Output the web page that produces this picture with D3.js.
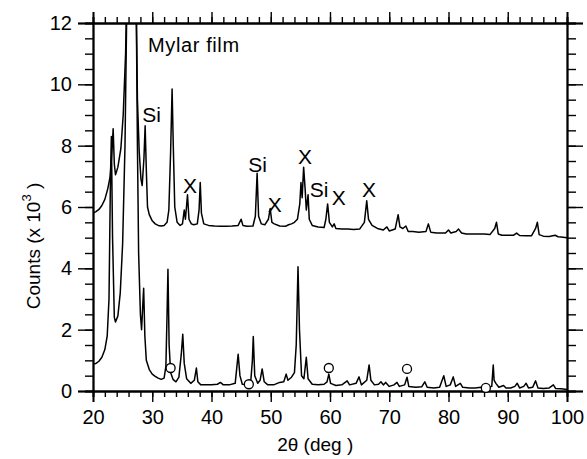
<!DOCTYPE html>
<html>
<head>
<meta charset="utf-8">
<script src="https://cdn.jsdelivr.net/npm/d3@7"></script>
<style>
  body { margin: 0; background: #fff; }
  svg { display: block; font-family: "Liberation Sans", Arial, sans-serif; }
</style>
</head>
<body>
<div id="chart"></div>
<script>
// upper trace (sample on Mylar film): [2theta, counts x 10^3]
var upperTrace = [
  [20.0,5.80],[20.5,5.85],[21.0,5.92],[21.5,6.05],[22.0,6.25],[22.5,6.6],[22.9,7.0],[23.2,7.8],
  [23.4,8.55],[23.6,7.4],[23.8,7.05],[24.2,7.3],[24.7,7.9],[25.1,9.0],[25.5,11.0],[25.7,13],
  [26.0,16],[27.0,16],[27.3,12.5],[27.5,9.5],[27.8,7.8],[28.1,6.9],[28.3,6.7],[28.6,7.6],
  [28.8,8.65],[29.0,7.2],[29.2,6.0],[29.5,5.75],[30.0,5.55],[30.5,5.45],[31.0,5.4],[31.5,5.38],
  [32.0,5.4],[32.5,5.5],[32.8,5.9],[33.1,7.8],[33.35,9.85],[33.55,8.0],[33.8,6.0],[34.2,5.5],
  [34.7,5.4],[35.1,5.45],[35.4,5.9],[35.6,5.6],[35.95,6.4],[36.2,5.6],[36.6,5.45],[37.0,5.42],
  [37.6,5.45],[37.9,5.9],[38.1,6.8],[38.3,5.8],[38.7,5.45],[39.5,5.4],[40.5,5.38],[41.5,5.37],
  [42.5,5.37],[43.5,5.38],[44.5,5.4],[45.0,5.6],[45.3,5.4],[46.0,5.37],[47.0,5.38],[47.4,5.7],
  [47.7,7.1],[47.95,5.7],[48.4,5.45],[49.0,5.42],[49.6,5.6],[49.9,5.95],[50.2,5.5],[50.6,5.45],
  [51.5,5.38],[52.5,5.37],[53.0,5.42],[53.5,5.45],[54.0,5.5],[54.5,5.6],[54.9,6.1],[55.1,6.8],
  [55.3,6.3],[55.55,7.3],[55.8,6.6],[56.0,5.9],[56.3,6.4],[56.5,5.6],[57.0,5.4],[58.0,5.35],
  [59.0,5.33],[59.3,5.6],[59.6,6.1],[59.9,5.5],[60.4,5.35],[60.7,5.45],[61.0,5.3],[62.0,5.28],
  [63.0,5.28],[64.0,5.27],[65.0,5.28],[65.8,5.5],[66.2,6.2],[66.5,5.6],[66.8,5.5],[67.1,5.4],
  [68.0,5.3],[69.0,5.25],[69.6,5.35],[70.0,5.22],[71.0,5.28],[71.5,5.75],[71.8,5.35],[72.3,5.3],
  [72.8,5.38],[73.2,5.2],[74.0,5.2],[75.0,5.18],[76.2,5.2],[76.6,5.45],[77.0,5.18],[78.0,5.15],
  [79.5,5.15],[80.0,5.25],[80.4,5.15],[81.3,5.2],[81.7,5.28],[82.2,5.15],[83.0,5.12],[84.0,5.12],
  [85.0,5.12],[86.0,5.12],[87.0,5.1],[87.8,5.3],[88.1,5.5],[88.4,5.12],[89.0,5.08],[90.0,5.08],
  [91.0,5.08],[91.5,5.15],[92.0,5.07],[93.0,5.06],[94.0,5.06],[94.7,5.3],[95.0,5.5],[95.3,5.1],
  [96.0,5.05],[97.0,5.04],[98.0,5.08],[98.5,5.03],[99.0,5.02],[100.0,5.0]
];

// lower trace
var lowerTrace = [
  [20.0,0.88],[20.5,0.9],[21.0,0.97],[21.5,1.1],[22.0,1.35],[22.4,1.8],[22.7,3.0],[22.95,7.0],
  [23.1,8.3],[23.3,5.0],[23.6,2.4],[23.8,2.25],[24.2,2.45],[24.6,3.2],[25.0,4.8],[25.4,8.0],
  [25.7,12.5],[26.0,16],[27.0,16],[27.3,12.5],[27.5,8],[27.7,4.5],[28.0,2.5],[28.2,2.0],
  [28.4,2.8],[28.55,3.35],[28.75,1.8],[29.0,1.0],[29.5,0.7],[30.0,0.55],[30.5,0.48],[31.0,0.42],
  [31.5,0.38],[32.0,0.42],[32.3,0.8],[32.5,2.5],[32.65,3.97],[32.85,1.5],[33.1,0.6],[33.5,0.38],
  [34.0,0.3],[34.5,0.45],[34.9,1.2],[35.15,1.85],[35.4,0.9],[35.8,0.4],[36.5,0.25],[37.1,0.35],
  [37.45,0.75],[37.7,0.3],[38.2,0.2],[39.0,0.2],[40.0,0.2],[41.0,0.22],[41.5,0.28],[42.0,0.2],
  [43.0,0.2],[44.0,0.25],[44.5,1.2],[44.8,0.5],[45.2,0.22],[46.0,0.2],[46.6,0.25],[46.9,1.0],
  [47.05,1.78],[47.3,0.5],[47.8,0.25],[48.2,0.35],[48.55,0.72],[48.9,0.3],[49.5,0.2],[50.5,0.2],
  [51.5,0.28],[52.2,0.3],[52.6,0.55],[52.9,0.35],[53.5,0.45],[54.0,0.6],[54.3,1.5],[54.6,4.05],
  [54.85,2.0],[55.2,0.5],[55.6,0.4],[56.0,1.1],[56.3,0.4],[57.0,0.22],[58.0,0.2],[59.0,0.22],
  [59.5,0.3],[59.8,0.55],[60.1,0.25],[61.0,0.18],[62.0,0.2],[62.9,0.33],[63.3,0.2],[64.4,0.25],
  [64.9,0.46],[65.3,0.2],[66.2,0.35],[66.6,0.85],[66.9,0.35],[67.5,0.2],[68.2,0.22],[68.6,0.3],
  [69.0,0.2],[69.4,0.28],[70.0,0.15],[70.8,0.2],[71.3,0.28],[71.7,0.15],[72.6,0.2],[73.0,0.45],
  [73.3,0.15],[74.5,0.12],[75.5,0.14],[76.0,0.3],[76.4,0.12],[77.5,0.1],[78.5,0.12],[79.2,0.5],
  [79.6,0.15],[80.3,0.2],[80.8,0.46],[81.2,0.15],[82.0,0.25],[82.4,0.12],[83.5,0.1],[84.5,0.1],
  [85.5,0.12],[86.5,0.1],[87.3,0.15],[87.55,0.85],[87.7,0.35],[88.0,0.25],[88.5,0.12],[89.3,0.18],
  [89.7,0.1],[90.5,0.1],[91.2,0.15],[91.6,0.25],[92.0,0.1],[92.7,0.15],[93.1,0.25],[93.5,0.1],
  [94.2,0.12],[94.7,0.33],[95.1,0.1],[96.0,0.08],[97.0,0.1],[97.7,0.2],[98.1,0.08],[99.0,0.07],
  [100.0,0.05]
];

// open circle markers on the lower trace
var circleMarks = [[33.1,0.75],[46.3,0.22],[59.8,0.75],[73.0,0.72],[86.3,0.1]];

// peak labels: [text, 2theta at left edge, counts at baseline]
var peakLabels = [
  ["Si", 28.3, 8.77], ["X", 35.2, 6.46], ["Si", 46.2, 7.14], ["X", 49.5, 5.84],
  ["X", 54.6, 7.40], ["Si", 56.6, 6.33], ["X", 60.3, 6.06], ["X", 65.4, 6.33]
];

var xTickValues = [20, 30, 40, 50, 60, 70, 80, 90, 100];
var yTickValues = [0, 2, 4, 6, 8, 10, 12];

var margin = {top: 23, right: 20, bottom: 68, left: 93},
    width = 587 - margin.left - margin.right,
    height = 459 - margin.top - margin.bottom;

var svg = d3.select("#chart")
  .append("svg")
    .attr("width", 587)
    .attr("height", 459)
  .append("g")
    .attr("transform", `translate(${margin.left},${margin.top})`);

var x = d3.scaleLinear().domain([20, 100]).range([0, width]);
var y = d3.scaleLinear().domain([0, 12]).range([height, 0]);

svg.append("clipPath").attr("id", "plotClip")
  .append("rect").attr("width", width).attr("height", height);

// minor ticks first, then major ones with labels
var minorX = d3.range(20, 101, 2), minorY = d3.range(0, 12.01, 0.5);

function styleAxis(g) {
  g.attr("font-family", null).attr("font-size", null);
  g.select(".domain").attr("stroke-width", 1.8);
  g.selectAll("line").attr("stroke-width", 1.4);
}

svg.append("g").attr("transform", `translate(0,${height})`)
  .call(d3.axisBottom(x).tickValues(minorX).tickSize(6).tickFormat(""))
  .call(styleAxis);
svg.append("g").attr("transform", `translate(0,${height})`)
  .call(d3.axisBottom(x).tickValues(xTickValues).tickSize(11).tickPadding(8))
  .call(styleAxis)
  .selectAll("text").style("font-size", "20px").attr("fill", "#000");

svg.append("g")
  .call(d3.axisTop(x).tickValues(minorX).tickSize(6).tickFormat(""))
  .call(styleAxis);
svg.append("g")
  .call(d3.axisTop(x).tickValues(xTickValues).tickSize(11).tickFormat(""))
  .call(styleAxis);

svg.append("g")
  .call(d3.axisLeft(y).tickValues(minorY).tickSize(8).tickFormat(""))
  .call(styleAxis);
svg.append("g")
  .call(d3.axisLeft(y).tickValues(yTickValues).tickSize(15).tickPadding(6))
  .call(styleAxis)
  .selectAll("text").style("font-size", "20px").attr("fill", "#000");

svg.append("g").attr("transform", `translate(${width},0)`)
  .call(d3.axisRight(y).tickValues(minorY).tickSize(9).tickFormat(""))
  .call(styleAxis);
svg.append("g").attr("transform", `translate(${width},0)`)
  .call(d3.axisRight(y).tickValues(yTickValues).tickSize(16).tickFormat(""))
  .call(styleAxis);

// traces
var line = d3.line().x(d => x(d[0])).y(d => y(d[1]));

svg.append("g").attr("clip-path", "url(#plotClip)")
  .selectAll("path")
  .data([upperTrace, lowerTrace])
  .join("path")
    .attr("d", line)
    .attr("fill", "none")
    .attr("stroke", "#000")
    .attr("stroke-width", 1.5)
    .attr("stroke-linejoin", "round");

svg.append("g")
  .selectAll("circle")
  .data(circleMarks)
  .join("circle")
    .attr("cx", d => x(d[0]))
    .attr("cy", d => y(d[1]))
    .attr("r", 4.5)
    .attr("fill", "#fff")
    .attr("stroke", "#000")
    .attr("stroke-width", 1.3);

svg.append("g")
  .selectAll("text")
  .data(peakLabels)
  .join("text")
    .attr("x", d => x(d[1]))
    .attr("y", d => y(d[2]))
    .style("font-size", "21px")
    .text(d => d[0]);

svg.append("text")
  .attr("x", x(29.3))
  .attr("y", y(11.05))
  .style("font-size", "20px")
  .style("letter-spacing", "0.6px")
  .text("Mylar film");

// axis titles
svg.append("text")
  .attr("transform", `translate(-53,223) rotate(-90)`)
  .attr("text-anchor", "middle")
  .style("font-size", "19px")
  .html("Counts (x 10<tspan dy='-9' font-size='13px'>3</tspan><tspan dy='9'> )</tspan>");

svg.append("text")
  .attr("x", x(57.5))
  .attr("y", height + 60)
  .attr("text-anchor", "middle")
  .style("font-size", "19px")
  .text("2θ (deg )");
</script>
</body>
</html>
